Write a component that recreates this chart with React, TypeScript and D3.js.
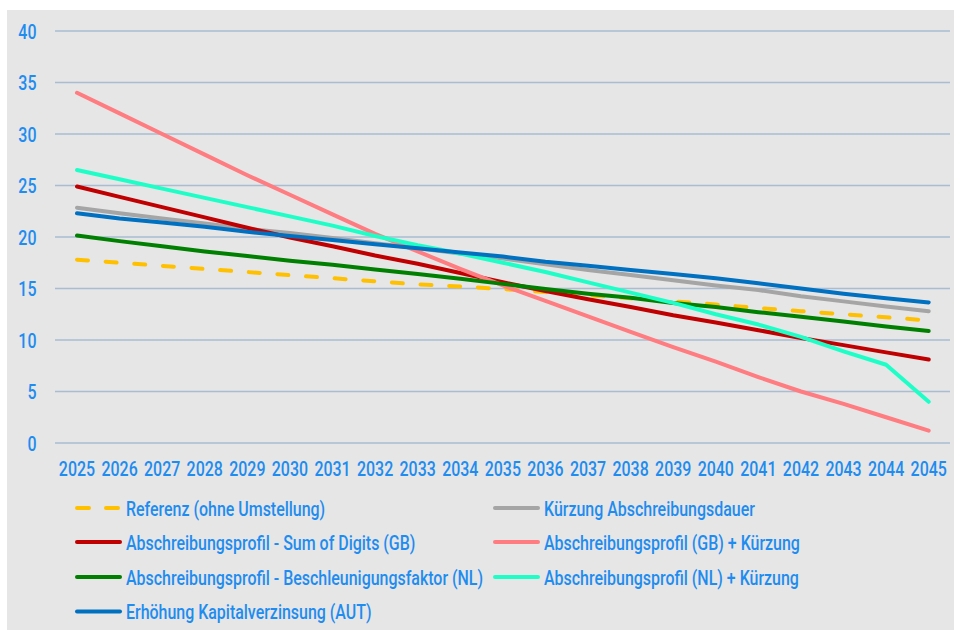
import React from "react";
import * as d3 from "d3";

const years = [2025, 2026, 2027, 2028, 2029, 2030, 2031, 2032, 2033, 2034, 2035, 2036, 2037, 2038, 2039, 2040, 2041, 2042, 2043, 2044, 2045];
const yTicks = [0, 5, 10, 15, 20, 25, 30, 35, 40];

const referenz = [17.8, 17.5, 17.2, 16.9, 16.6, 16.3, 16.0, 15.7, 15.4, 15.2, 14.95, 14.65, 14.35, 14.05, 13.75, 13.45, 13.1, 12.8, 12.5, 12.2, 11.9];
const kuerzung = [22.85, 22.3, 21.8, 21.3, 20.8, 20.4, 19.9, 19.4, 18.9, 18.4, 17.9, 17.35, 16.8, 16.3, 15.8, 15.3, 14.85, 14.25, 13.75, 13.25, 12.8];
const sumOfDigits = [24.9, 23.9, 22.9, 21.9, 20.9, 19.95, 19.1, 18.2, 17.4, 16.5, 15.6, 14.75, 13.95, 13.2, 12.4, 11.7, 10.95, 10.2, 9.5, 8.8, 8.1];
const gbKuerzung = [34.0, 32.0, 30.0, 28.0, 26.0, 24.1, 22.2, 20.3, 18.6, 16.9, 15.3, 13.8, 12.3, 10.8, 9.3, 7.9, 6.4, 5.0, 3.8, 2.5, 1.2];
const beschleunigung = [20.15, 19.6, 19.1, 18.6, 18.15, 17.7, 17.3, 16.85, 16.4, 15.95, 15.45, 14.95, 14.5, 14.1, 13.6, 13.2, 12.7, 12.25, 11.8, 11.3, 10.87];
const nlKuerzung = [26.5, 25.6, 24.7, 23.8, 22.9, 22.0, 21.1, 20.1, 19.2, 18.4, 17.5, 16.6, 15.6, 14.6, 13.6, 12.5, 11.5, 10.3, 8.9, 7.6, 4.0];
const kapital = [22.3, 21.8, 21.4, 21.0, 20.5, 20.1, 19.7, 19.3, 18.9, 18.5, 18.1, 17.6, 17.2, 16.8, 16.4, 16.0, 15.5, 15.0, 14.5, 14.05, 13.65];

const seriesNames = [
  "Referenz (ohne Umstellung)",
  "Kürzung Abschreibungsdauer",
  "Abschreibungsprofil - Sum of Digits (GB)",
  "Abschreibungsprofil (GB) + Kürzung",
  "Abschreibungsprofil - Beschleunigungsfaktor (NL)",
  "Abschreibungsprofil (NL) + Kürzung",
  "Erhöhung Kapitalverzinsung (AUT)",
];
const seriesValues = [referenz, kuerzung, sumOfDigits, gbKuerzung, beschleunigung, nlKuerzung, kapital];
const seriesColors = ["#ffc000", "#a5a5a5", "#c00000", "#ff7c80", "#008000", "#1effc8", "#0070c0"];
const seriesDashed = [true, false, false, false, false, false, false];

const W = 954;
const H = 630;
const FONT = "Roboto, 'Noto Sans', sans-serif";
const FS = 21;
const SX = 0.76;
const TEXT = "#1e8cf0";

function NarrowText(props: { x: number; y: number; anchor?: string; children: React.ReactNode }) {
  return (
    <text
      transform={`translate(${props.x},${props.y}) scale(${SX},1)`}
      dy="0.36em"
      textAnchor={props.anchor || "start"}
      fontSize={FS}
      fontWeight={500}
      fill={TEXT}
    >
      {props.children}
    </text>
  );
}

export default function App() {
  const x = d3.scalePoint<number>().domain(years).range([55.7, 950]).padding(0.5);
  const y = d3.scaleLinear().domain([0, 40]).range([443, 31]);
  const line = d3
    .line<number>()
    .x((_, i) => x(years[i]) as number)
    .y((d) => y(d));

  const legendCols = [75, 493];
  const legendRowY = [508, 542, 577, 611.5];
  const legendItems = seriesNames.map((name, i) => ({
    name,
    col: i % 2,
    row: Math.floor(i / 2),
    color: seriesColors[i],
    dashed: seriesDashed[i],
  }));

  return (
    <svg
      width={W}
      height={H}
      style={{ position: "absolute", left: 0, top: 0, display: "block" }}
      fontFamily={FONT}
    >
      <rect x={0} y={0} width={W} height={H} fill="#ffffff" />
      <rect x={7} y={10} width={W - 7} height={H - 10} fill="#e6e6e6" />
      {yTicks.map((t) => (
        <g key={t}>
          <line x1={55} x2={950} y1={y(t)} y2={y(t)} stroke="#a9bcd2" strokeWidth={1.5} />
          <NarrowText x={36.5} y={y(t)} anchor="end">
            {t}
          </NarrowText>
        </g>
      ))}
      {years.map((yr) => (
        <NarrowText key={yr} x={x(yr) as number} y={468} anchor="middle">
          {yr}
        </NarrowText>
      ))}
      {seriesValues.map((vals, i) => (
        <path
          key={i}
          d={line(vals) || ""}
          fill="none"
          stroke={seriesColors[i]}
          strokeWidth={4}
          strokeLinecap="round"
          strokeLinejoin="round"
          strokeDasharray={seriesDashed[i] ? "11 17.7" : undefined}
        />
      ))}
      {legendItems.map((it, i) => {
        const lx = legendCols[it.col];
        const ly = legendRowY[it.row];
        return (
          <g key={i}>
            <line
              x1={lx + 2}
              x2={lx + 45}
              y1={ly}
              y2={ly}
              stroke={it.color}
              strokeWidth={4}
              strokeLinecap="round"
              strokeDasharray={it.dashed ? "12 17" : undefined}
            />
            <NarrowText x={lx + 51} y={ly}>
              {it.name}
            </NarrowText>
          </g>
        );
      })}
    </svg>
  );
}
